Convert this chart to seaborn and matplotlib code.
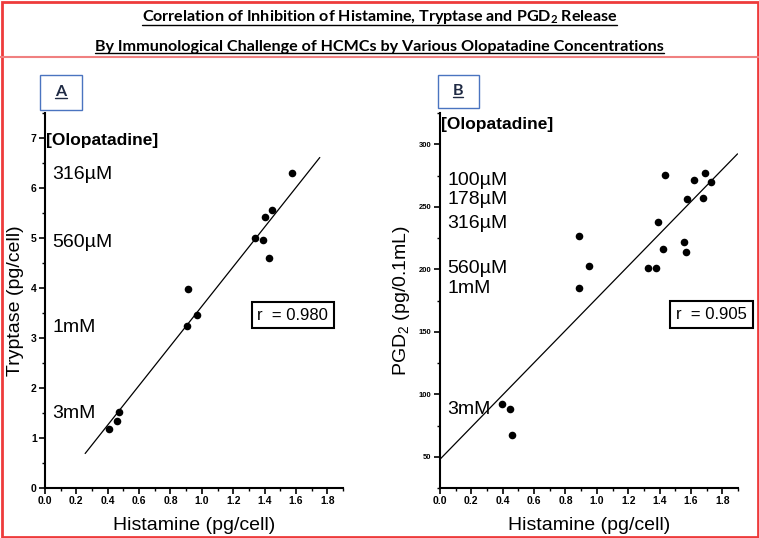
import matplotlib
matplotlib.use("Agg")
import matplotlib.pyplot as plt
import seaborn as sns
import pandas as pd
from matplotlib.patches import Rectangle
from matplotlib.lines import Line2D
from matplotlib.ticker import MultipleLocator

# ---- data ----
hist_a = [0.41, 0.457, 0.474, 0.906, 0.97, 0.91, 1.34, 1.39, 1.43, 1.40, 1.45, 1.577]
tryp_a = [1.18, 1.35, 1.53, 3.25, 3.47, 3.98, 5.00, 4.97, 4.61, 5.42, 5.57, 6.30]
fit_a_x = [0.256, 1.752]
fit_a_y = [0.69, 6.61]
conc_a = ["316µM", "560µM", "1mM", "3mM"]
conc_a_y = [6.28, 4.92, 3.22, 1.50]
r_a = "r  = 0.980"

hist_b = [0.398, 0.445, 0.462, 0.889, 0.889, 0.953, 1.325, 1.374, 1.389,
          1.419, 1.436, 1.553, 1.566, 1.572, 1.617, 1.676, 1.687, 1.727]
pgd_b = [92.3, 88.6, 67.6, 185.2, 227.0, 202.8, 201.2, 201.0, 237.9,
         216.6, 275.2, 221.7, 214.0, 256.0, 271.2, 257.4, 277.0, 269.6]
fit_b_x = [0.0, 1.897]
fit_b_y = [48.0, 292.3]
conc_b = ["100µM", "178µM", "316µM", "560µM", "1mM", "3mM"]
conc_b_y = [270.7, 256.0, 236.9, 200.4, 184.4, 87.8]
r_b = "r  = 0.905"

x_ticks = [0.0, 0.2, 0.4, 0.6, 0.8, 1.0, 1.2, 1.4, 1.6, 1.8]

title_1 = "Correlation of Inhibition of Histamine, Tryptase and PGD$_2$ Release"
title_2 = "By Immunological Challenge of HCMCs by Various Olopatadine Concentrations"

# ---- style ----
sns.set_style("ticks")
plt.rcParams["font.family"] = ["Liberation Sans", "DejaVu Sans"]
plt.rcParams["mathtext.default"] = "regular"
plt.rcParams["text.color"] = "black"
plt.rcParams["axes.labelcolor"] = "black"
plt.rcParams["xtick.color"] = "black"
plt.rcParams["ytick.color"] = "black"
plt.rcParams["axes.edgecolor"] = "black"

fig = plt.figure(figsize=(7.59, 5.38), dpi=100)
W, H = 759, 538


def px_axes(left, top, right, bottom):
    return fig.add_axes([left / W, 1 - bottom / H, (right - left) / W, (bottom - top) / H])


ax_a = px_axes(45, 113, 343, 488)
ax_b = px_axes(440, 113, 738, 488)

df_a = pd.DataFrame({"hist": hist_a, "val": tryp_a})
df_b = pd.DataFrame({"hist": hist_b, "val": pgd_b})

panels = [
    (ax_a, df_a, fit_a_x, fit_a_y, (0, 7.5), 1, 0.5, 7.5, conc_a, conc_a_y, 6.96, r_a, 1.58, 3.46,
     "Tryptase (pg/cell)"),
    (ax_b, df_b, fit_b_x, fit_b_y, (25, 325), 50, 25, 5.5, conc_b, conc_b_y, 315.4, r_b, 1.73, 163.7,
     "PGD$_2$ (pg/0.1mL)"),
]

for ax, df, fx, fy, ylim, ymaj, ymin, ysize, conc, cy, oly, rtxt, rx, ry, ylab in panels:
    sns.lineplot(x=fx, y=fy, ax=ax, color="black", lw=0.9)
    sns.scatterplot(data=df, x="hist", y="val", ax=ax, color="black", s=30,
                    edgecolor="black", linewidth=0, zorder=3)
    ax.set_xlim(0, 1.9)
    ax.set_ylim(*ylim)
    ax.set_xticks(x_ticks)
    ax.xaxis.set_minor_locator(MultipleLocator(0.1))
    ax.yaxis.set_major_locator(MultipleLocator(ymaj))
    ax.yaxis.set_minor_locator(MultipleLocator(ymin))
    ax.tick_params(which="major", direction="out", length=4, width=1.2, labelsize=7.5, pad=2)
    ax.tick_params(axis="y", which="major", labelsize=ysize)
    ax.tick_params(which="minor", direction="out", length=2.5, width=1.0)
    for lab in ax.get_xticklabels() + ax.get_yticklabels():
        lab.set_fontweight("bold")
    sns.despine(ax=ax)
    ax.spines["left"].set_linewidth(1.5)
    ax.spines["bottom"].set_linewidth(1.5)
    ax.set_xlabel("Histamine (pg/cell)", fontsize=14, labelpad=8)
    ax.set_ylabel(ylab, fontsize=14, labelpad=5)

    ax.text(0.005, oly, "[Olopatadine]", fontsize=12.5, fontweight="bold", va="center", ha="left")
    for t, yy in zip(conc, cy):
        ax.text(0.045, yy, t, fontsize=14, va="center", ha="left")
    ax.text(rx, ry, rtxt, fontsize=12, ha="center", va="center",
            bbox=dict(boxstyle="square,pad=0.35", fc="white", ec="black", lw=1.5),
            clip_on=False)

# ---- title, frame, panel tags ----
title_font = dict(family=["Lato", "DejaVu Sans"], fontweight="bold", fontsize=11.6,
                  ha="center", va="center", color="black")
t1 = fig.text(0.5, 1 - 17 / H, title_1, **title_font)
t2 = fig.text(0.5, 1 - 47 / H, title_2, **title_font)

tag_a = fig.text(61 / W, 1 - 92 / H, "A", family=["Lato"], fontsize=11.5, fontweight="bold",
                 ha="center", va="center", color="#1f2a44")
tag_b = fig.text(458 / W, 1 - 91 / H, "B", family=["Lato"], fontsize=11.5, fontweight="bold",
                 ha="center", va="center", color="#1f2a44")
fig.patches.append(Rectangle((40 / W, 1 - 110 / H), 42 / W, 35 / H, transform=fig.transFigure,
                             fill=False, ec="#4a74c0", lw=1.0))
fig.patches.append(Rectangle((438 / W, 1 - 108 / H), 41 / W, 33 / H, transform=fig.transFigure,
                             fill=False, ec="#4a74c0", lw=1.0))

# red outer frame and separator
fig.patches.append(Rectangle((1.5 / W, 1.5 / H), (W - 3) / W, (H - 3) / H,
                             transform=fig.transFigure, fill=False, ec="#ee3b3b", lw=2))
fig.lines.append(Line2D([0, 1], [1 - 57 / H] * 2, transform=fig.transFigure,
                        color="#f08080", lw=1.5))

# underline titles and tags
fig.canvas.draw()
renderer = fig.canvas.get_renderer()
inv = fig.transFigure.inverted()
for txt, off in [(t1, 1.5), (t2, 1.5), (tag_a, 1.0), (tag_b, 1.0)]:
    bb = txt.get_window_extent(renderer)
    (x0, y0), (x1, _) = inv.transform([[bb.x0, bb.y0 + off], [bb.x1, bb.y0]])
    fig.lines.append(Line2D([x0, x1], [y0, y0], transform=fig.transFigure,
                            color=txt.get_color(), lw=1.0))

fig.savefig("out.png", dpi=100)
